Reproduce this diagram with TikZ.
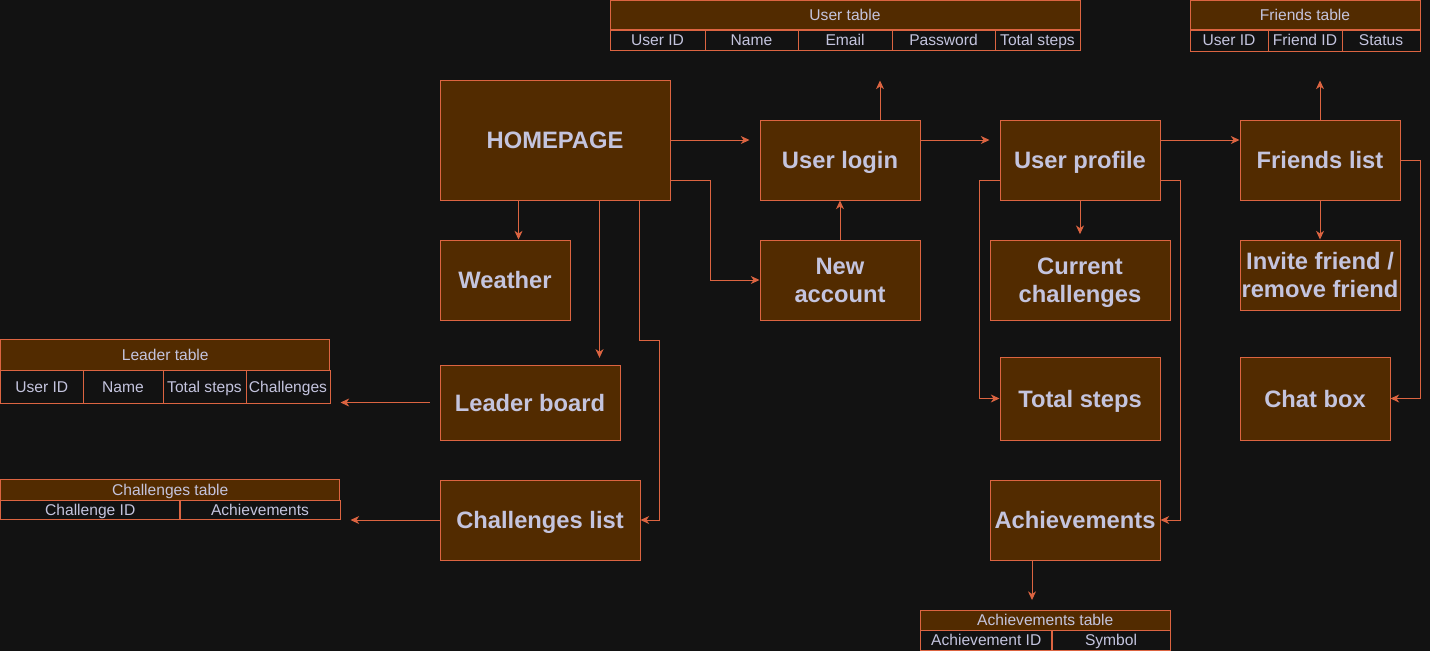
\documentclass[tikz,border=0pt]{standalone}
\usepackage{fontspec}
\setmainfont{Liberation Sans}
\usetikzlibrary{arrows.meta,calc}
\definecolor{bg}{HTML}{121212}
\definecolor{boxfill}{HTML}{522B00}
\definecolor{border}{HTML}{DC6441}
\definecolor{txt}{HTML}{C4C4DE}
\begin{document}
\begin{tikzpicture}[x=0.75pt,y=-0.75pt,
  box/.style={draw=border, fill=boxfill, line width=0.75pt, text=txt, align=center, inner sep=0pt,
    font=\bfseries\fontsize{17.8}{21}\selectfont},
  one/.style={text height=14pt, text depth=1pt},
  thead/.style={draw=border, fill=boxfill, line width=0.75pt, text=txt, inner sep=0pt,
    font=\fontsize{11.7}{13}\selectfont, text height=9.2pt, text depth=1pt},
  tcell/.style={draw=border, fill=bg, line width=0.75pt, text=txt, inner sep=0pt,
    font=\fontsize{11.7}{13}\selectfont, text height=9.2pt, text depth=1pt},
  conn/.style={draw=border, line width=0.75pt, -{Stealth[length=6.5pt,width=6pt,inset=2pt]}}]
\fill[bg] (0,0) rectangle (1430,651);
\useasboundingbox (0,0) rectangle (1430,651);

% main boxes
\node[box, one, minimum width=172.5pt, minimum height=90pt] (home) at (555,140) {HOMEPAGE};
\node[box, one, minimum width=120pt, minimum height=60pt] (login) at (840,160) {User login};
\node[box, one, minimum width=120pt, minimum height=60pt] (profile) at (1080,160) {User profile};
\node[box, one, minimum width=120pt, minimum height=60pt] (friends) at (1320,160) {Friends list};
\node[box, one, minimum width=97.5pt, minimum height=60pt] (weather) at (505,280) {Weather};
\node[box, minimum width=120pt, minimum height=60pt] (newacc) at (840,280) {New\\ account};
\node[box, minimum width=135pt, minimum height=60pt] (current) at (1080,280) {\rule{0pt}{16.5pt}Current\\ challenges};
\node[box, minimum width=120pt, minimum height=52.5pt] (invite) at (1320,275) {Invite friend /\\remove friend};
\node[box, one, minimum width=135pt, minimum height=56.25pt] (leader) at (530,402.5) {Leader board};
\node[box, one, minimum width=120pt, minimum height=62.25pt] (totalsteps) at (1080,398.5) {Total steps};
\node[box, one, minimum width=112.5pt, minimum height=62.25pt] (chat) at (1315,398.5) {Chat box};
\node[box, one, minimum width=150pt, minimum height=60pt] (chlist) at (540,520) {Challenges list};
\node[box, one, minimum width=127.5pt, minimum height=60pt] (achieve) at (1075,520) {Achievements};

% User table
\node[thead, minimum width=352.5pt, minimum height=22.1pt] (uth) at (845,15.25) {User table};
\node[tcell, minimum width=71.25pt, minimum height=15pt] (ut1) at (657.5,40) {User ID};
\node[tcell, minimum width=69.75pt, minimum height=15pt] (ut2) at (751.5,40) {Name};
\node[tcell, minimum width=70.5pt, minimum height=15pt] (ut3) at (845,40) {Email};
\node[tcell, minimum width=77.25pt, minimum height=15pt] (ut4) at (943.5,40) {Password};
\node[tcell, minimum width=63.75pt, minimum height=15pt] (ut5) at (1037.5,40) {Total steps};

% Friends table
\node[thead, minimum width=172.5pt, minimum height=22.1pt] (fth) at (1305,15.25) {Friends table};
\node[tcell, minimum width=58.5pt, minimum height=15.75pt] (ft1) at (1229,40.5) {User ID};
\node[tcell, minimum width=55.5pt, minimum height=15.75pt] (ft2) at (1305,40.5) {Friend ID};
\node[tcell, minimum width=58.5pt, minimum height=15.75pt] (ft3) at (1381,40.5) {Status};

% Leader table
\node[thead, minimum width=247.1pt, minimum height=22.9pt] (lth) at (165.25,355.25) {Leader table};
\node[tcell, minimum width=61.9pt, minimum height=24.75pt] (lt1) at (41.75,387) {User ID};
\node[tcell, minimum width=60pt, minimum height=24.75pt] (lt2) at (123,387) {Name};
\node[tcell, minimum width=62.25pt, minimum height=24.75pt] (lt3) at (204.5,387) {Total steps};
\node[tcell, minimum width=63pt, minimum height=24.75pt] (lt4) at (288,387) {Challenges};

% Challenges table
\node[thead, minimum width=254.6pt, minimum height=15.4pt] (cth) at (170.25,490.25) {Challenges table};
\node[tcell, minimum width=134.6pt, minimum height=14.6pt] (ct1) at (90.25,510.25) {Challenge ID};
\node[tcell, minimum width=120pt, minimum height=14.6pt] (ct2) at (260,510.25) {Achievements};

% Achievements table
\node[thead, minimum width=187.1pt, minimum height=15pt] (ath) at (1045.25,620.5) {Achievements table};
\node[tcell, minimum width=98.6pt, minimum height=15pt] (at1) at (986.25,640.5) {Achievement ID};
\node[tcell, minimum width=88.5pt, minimum height=15pt] (at2) at (1111,640.5) {Symbol};

% connectors
\draw[conn, shorten >=7.5pt] (home.east |- 0,140) -- (login.west |- 0,140);
\draw[conn] ([yshift=15pt]home.south east) -- ++(40,0) |- (newacc.west);
\draw[conn] ([xshift=59.25pt]home.south west) -- ([xshift=59.25pt]weather.north west);
\draw[conn, shorten >=5pt] ([xshift=120pt]home.south west) -- ([xshift=120pt]leader.north west);
\draw[conn] ([xshift=150pt]home.south west) -- ++(0,140) -- ++(20,0) |- (chlist.east);
\draw[conn] (newacc.north) -- (login.south);
\draw[conn, shorten >=22.5pt] ([xshift=30pt]login.north) -- ([xshift=30pt]login.north |- ut5.south);
\draw[conn, shorten >=7.5pt] ([yshift=15pt]login.east) -- ([yshift=15pt]profile.west);
\draw[conn] ([yshift=15pt]profile.east) -- ([yshift=15pt]friends.west);
\draw[conn, shorten >=4pt] (profile.south) -- (current.north);
\draw[conn] ([yshift=-15pt]profile.west) -- ++(-20,0) |- (totalsteps.west);
\draw[conn] ([yshift=-15pt]profile.east) -- ++(20,0) |- (achieve.east);
\draw[conn, shorten >=7.5pt] ([xshift=-32.25pt]achieve.south) -- ([xshift=-32.25pt]achieve.south |- ath.north);
\draw[conn, shorten >=21.75pt] (friends.north) -- (friends.north |- ft2.south);
\draw[conn] (friends.south) -- (invite.north);
\draw[conn] (friends.east) -- ++(20,0) |- (chat.east);
\draw[conn, shorten <=7.5pt, shorten >=7.5pt] (leader.west) -- (leader.west -| lt4.east);
\draw[conn, shorten >=7.5pt] (chlist.west) -- (chlist.west -| ct2.east);
\end{tikzpicture}
\end{document}
